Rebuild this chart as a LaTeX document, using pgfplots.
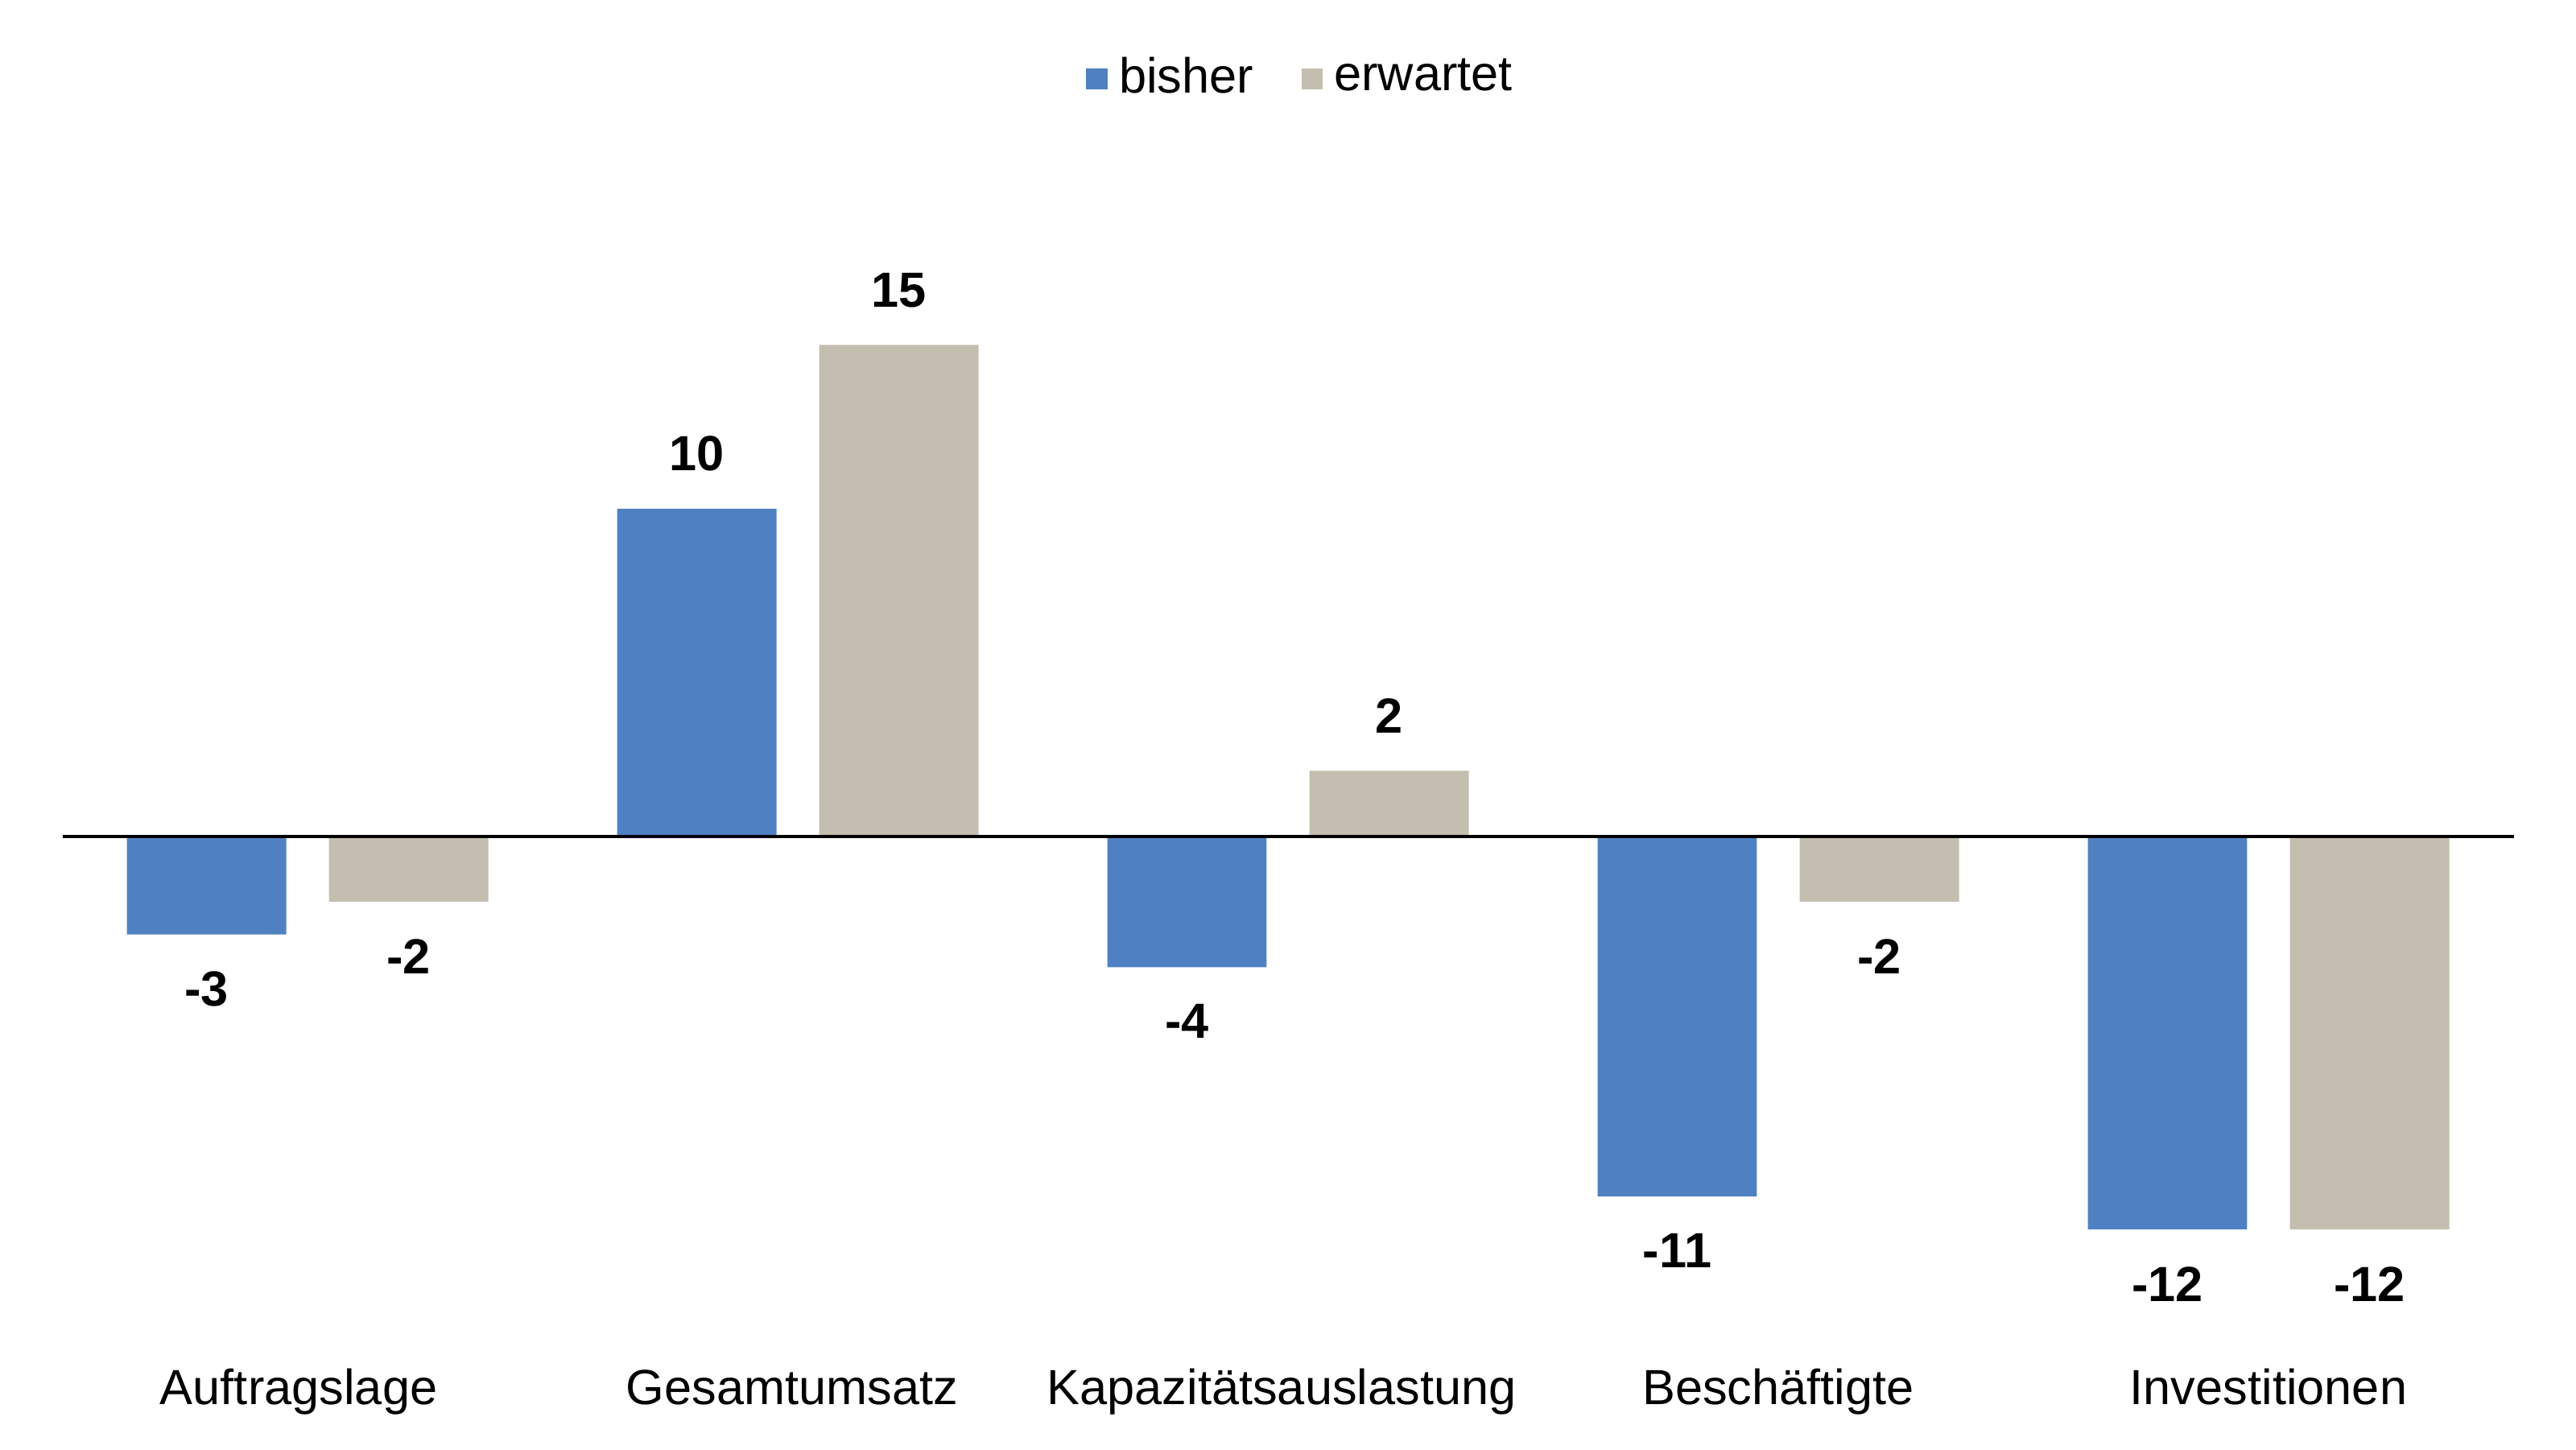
\documentclass[border=0pt]{standalone}
\usepackage{fontspec}
\setmainfont{Liberation Sans}
\usepackage{pgfplots}
\pgfplotsset{compat=1.18}
\definecolor{bisherblue}{RGB}{79,129,194}
\definecolor{erwartetbeige}{RGB}{196,190,176}
\pgfplotsset{sqlegend/.style={legend image code/.code={\fill[##1] (0cm,-0.065cm) rectangle (0.13cm,0.065cm);}}}

\begin{document}
\begin{tikzpicture}
\path[use as bounding box] (0,0) rectangle (15.68cm,8.82cm);
\begin{axis}[
  at={(0.38cm,0.29cm)}, anchor=south west,
  scale only axis, width=14.92cm, height=6.73cm,
  xmin=-0.5, xmax=4.5, ymin=-17.26, ymax=16.5,
  ybar=0.26cm, bar width=0.97cm,
  axis line style={draw=none}, major tick length=0pt,
  ytick=\empty, xtick={-0.018,0.988,1.987,3,4},
  xticklabels={Auftragslage,Gesamtumsatz,Kapazitätsauslastung,Beschäftigte,Investitionen},
  xticklabel style={anchor=base, yshift=-0.02cm, font=\fontsize{8.55}{10}\selectfont, text=black},
  /pgf/number format/assume math mode=true,
  nodes near coords,
  every node near coord/.append style={font=\fontsize{8.55}{10}\selectfont\bfseries, text=black, inner ysep=0.22cm},
  clip=false,
  legend columns=2,
  legend style={draw=none, fill=none, at={(0.507,1.196)}, anchor=center,
    font=\fontsize{8.55}{10}\selectfont,
    /tikz/every even column/.append style={column sep=0.22cm}},
]
\addplot[fill=bisherblue, draw=none, sqlegend] coordinates {(0,-3) (1,10) (2,-4) (3,-11) (4,-12)};
\addplot[fill=erwartetbeige, draw=none, sqlegend] coordinates {(0,-2) (1,15) (2,2) (3,-2) (4,-12)};
\legend{bisher, erwartet}
\draw[black, line width=0.6pt] (axis cs:-0.5,0) -- (axis cs:4.5,0);
\end{axis}
\end{tikzpicture}
\end{document}
